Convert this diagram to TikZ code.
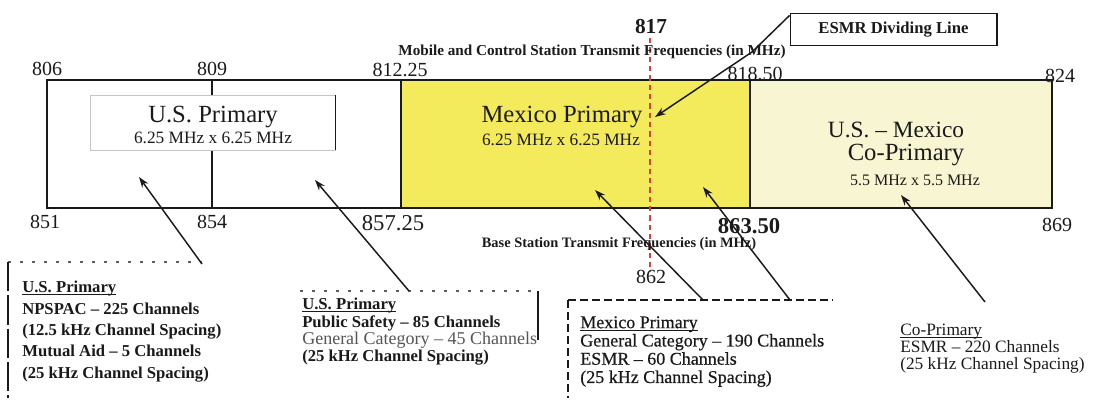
\documentclass[tikz,border=0pt]{standalone}
\usepackage{fontspec}
\setmainfont{Liberation Serif}
\newfontfamily\semib[FakeBold=0.5]{Liberation Serif}
\usetikzlibrary{arrows.meta}
\definecolor{ink}{HTML}{1A1A1A}
\definecolor{grayink}{HTML}{555555}
\definecolor{mexfill}{HTML}{F3EA5C}
\definecolor{cofill}{HTML}{F8F6D2}
\definecolor{divred}{HTML}{D2453F}
\definecolor{softline}{HTML}{C4C4C4}
\newcommand{\sz}[2]{\fontsize{#1}{#2}\selectfont}
\newcommand{\ulbar}[1]{\setbox0\hbox{#1}\rlap{\rule[-1.8pt]{\wd0}{.6pt}}\box0}
\tikzset{
 every node/.append style={text=ink},
 num/.style={font=\sz{15}{18},inner sep=0pt,anchor=base},
 bignum/.style={num,font=\sz{17}{20}},
 freq/.style={font=\bfseries\sz{10.8}{12},inner sep=0pt,anchor=base},
 band/.style={draw=ink,line width=.9pt},
 title/.style={font=\sz{18.5}{22},inner sep=0pt,anchor=base},
 size/.style={font=\sz{13}{15},inner sep=0pt,anchor=base},
 note/.style={align=left,anchor=north west,inner sep=0pt},
 point/.style={-{Stealth[length=8pt,width=5.5pt]},draw=ink,line width=1.1pt},
 frame/.style={draw=ink,line width=.8pt,dash pattern=on 22pt off 3pt},
 dots/.style={draw=ink!70,line width=.8pt,dash pattern=on 2pt off 7pt},
 divider/.style={draw=divred,line width=.9pt,dash pattern=on 4pt off 3pt},
}

\begin{document}
\begin{tikzpicture}[x=.75pt,y=-.75pt]
\useasboundingbox (0,0) rectangle (1102,400);

% bands
\fill[mexfill] (401,80) rectangle (750,208);
\fill[cofill] (750,80) rectangle (1052,208);
\draw[band] (47,80) rectangle (1052,208);
\draw[band] (212,80) -- (212,208);
\draw[band] (401,80) -- (401,208);
\draw[band] (750,80) -- (750,208);
\draw[divider] (650,38) -- (650,272);

% U.S. primary label box
\draw[fill=white,draw=softline,line width=.6pt] (90,95) rectangle (335,150);
\draw[band,line width=.7pt] (335,95) -- (335,150);
\node[title] (us) at (213,122) {U.S. Primary};
\node[size] (ussize) at (213,143) {6.25 MHz x 6.25 MHz};
\node[title] (mx) at (562,122) {Mexico Primary};
\node[size] (mxsize) at (561,145) {6.25 MHz x 6.25 MHz};
\node[title,font=\sz{17.5}{21}] (co) at (896,137) {U.S. – Mexico};
\node[title] (co2) at (906,160) {Co-Primary};
\node[size,font=\sz{12}{14}] (cosize) at (915,185) {5.5 MHz x 5.5 MHz};

% frequencies
\node[num] (f806) at (47,75) {806};
\node[num] (f809) at (212,75) {809};
\node[num] (f812) at (400,76) {812.25};
\node[num,font=\bfseries\sz{16}{19}] (f817) at (651,33) {817};
\node[num] (f818) at (755,80) {818.50};
\node[num] (f824) at (1060,82) {824};
\node[freq,font=\bfseries\sz{11.4}{13}] (mobile) at (592,55) {Mobile and Control Station Transmit Frequencies (in MHz)};
\node[num] (f851) at (45,228) {851};
\node[num] (f854) at (212,228) {854};
\node[bignum] (f857) at (393,230) {857.25};
\node[bignum,font=\bfseries\sz{17}{20}] (f863) at (749,233) {863.50};
\node[num] (f869) at (1057,231) {869};
\node[freq] (base) at (619,247) {Base Station Transmit Frequencies (in MHz)};
\node[num] (f862) at (651,283) {862};

% dividing line callout
\node[draw=ink,line width=1pt,font=\bfseries\sz{12.5}{15},minimum width=155pt,minimum height=24pt] (esmr) at (893.5,29.5) {ESMR Dividing Line};
\coordinate (esmrbend) at (752,52);
\coordinate (esmrtip) at (655,117);
\draw[point] ([yshift=-2pt]esmr.north west) -- (esmrbend) -- (esmrtip);

% note boxes
\draw[dots] (8,262) -- (202,262);
\draw[frame] (8,262) -- (8,398);
\node[note,font=\bfseries\sz{12.5}{16}] (noteA) at (22,281)
  {\ulbar{U.S. Primary}\\NPSPAC – 225 Channels\\(12.5 kHz Channel Spacing)\\Mutual Aid – 5 Channels\\(25 kHz Channel Spacing)};
\draw[dots] (300,291) -- (538,291);
\draw[band,line width=.8pt] (538,291) -- (538,340);
\node[note,font=\bfseries\sz{12.5}{13}] (noteB) at (302,298)
  {\ulbar{U.S. Primary}\\Public Safety – 85 Channels\\{\mdseries\color{grayink}\sz{13.5}{13}General Category – 45 Channels}\\(25 kHz Channel Spacing)};
\draw[frame,dash pattern=on 6pt off 3pt] (568,300) -- (833,300);
\draw[frame,dash pattern=on 6pt off 3pt] (568,300) -- (568,398);
\node[note,font=\semib\sz{13.5}{13.7}] (noteC) at (580,316)
  {\ulbar{Mexico Primary}\\General Category – 190 Channels\\ESMR – 60 Channels\\(25 kHz Channel Spacing)};
\node[note,font=\sz{13}{12.75}] (noteD) at (900,324)
  {\ulbar{Co-Primary}\\ESMR – 220 Channels\\(25 kHz Channel Spacing)};

% pointers
\coordinate (tipus1) at (139,177);
\coordinate (tipus2) at (315,180);
\coordinate (tipmx1) at (595,190);
\coordinate (tipmx2) at (703,187);
\coordinate (tipco) at (901,195);
\coordinate (fromA) at (202,264);
\coordinate (fromB) at (409,291);
\coordinate (fromC1) at (703,300);
\coordinate (fromC2) at (790,300);
\coordinate (fromD) at (985,302);
\draw[point] (fromA) -- (tipus1);
\draw[point] (fromB) -- (tipus2);
\draw[point] (fromC1) -- (tipmx1);
\draw[point] (fromC2) -- (tipmx2);
\draw[point] (fromD) -- (tipco);
\end{tikzpicture}
\end{document}
